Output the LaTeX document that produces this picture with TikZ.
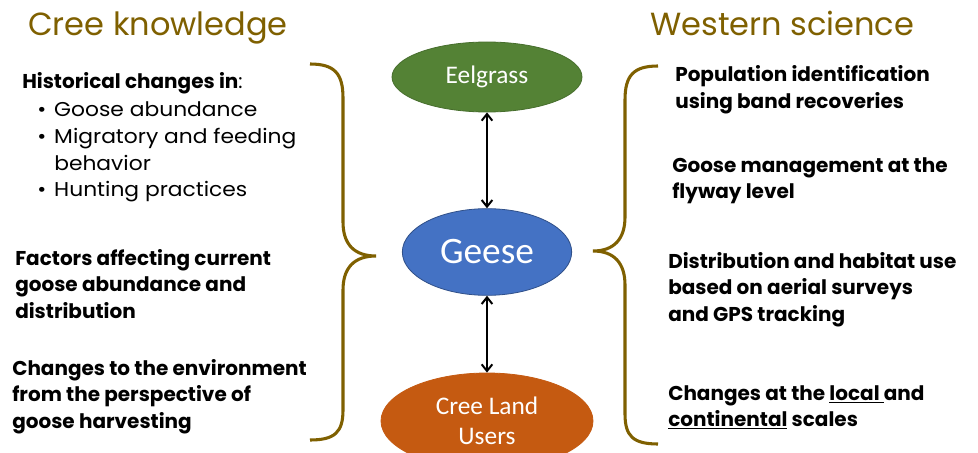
\documentclass[tikz,border=0pt]{standalone}
\usepackage{fontspec}
\setmainfont{Poppins}
\newfontfamily\widefont[FakeStretch=1.09]{Poppins}
\newfontfamily\calib{Carlito}
\usetikzlibrary{arrows.meta,shapes.geometric}
\definecolor{brownc}{HTML}{7F6000}
\definecolor{eelg}{HTML}{548235}
\definecolor{geeseb}{HTML}{4472C4}
\definecolor{creeo}{HTML}{C55A11}
\tikzset{
  title/.style={anchor=base west,inner sep=0pt,text=brownc,font=\fontsize{24}{28}\selectfont},
  block/.style={anchor=base west,inner sep=0pt,font=\fontsize{15}{19.9}\selectfont\bfseries},
  plain/.style={anchor=base west,inner sep=0pt,font=\fontsize{15}{19.9}\selectfont},
  oval/.style={ellipse,inner sep=0pt,text=white,line width=0.6pt},
  brace/.style={draw=brownc,line width=2.3pt},
  link/.style={line width=1.5pt,{Straight Barb[length=5pt,width=8pt]}-{Straight Barb[length=5pt,width=8pt]}}
}
\newcommand{\blk}[1]{\begin{tabular}[t]{@{}l@{}}#1\end{tabular}}
\begin{document}
\begin{tikzpicture}[x=0.75pt,y=-0.75pt]
\useasboundingbox (0,0) rectangle (978,453);
\clip (0,0) rectangle (978,453);
\fill[white] (0,0) rectangle (978,453);

% titles
\node[title] (tl) at (28,36) {Cree knowledge};
\node[title] (tr) at (650,36) {Western science};

% ellipses
\node[oval,fill=eelg,draw=eelg!85!black,minimum width=142.5pt,minimum height=52.5pt,font=\calib\fontsize{19}{22}\selectfont] (eel) at (487,77) {Eelgrass};
\node[oval,fill=geeseb,draw=geeseb!70!black,minimum width=127pt,minimum height=65pt,font=\calib\fontsize{28}{32}\selectfont] (geese) at (487,252) {Geese};
\node[oval,fill=creeo,draw=creeo,minimum width=159pt,minimum height=72pt,align=center,font=\calib\fontsize{19}{22.5}\selectfont] (cree) at (487,421) {Cree Land\\Users};

% connectors
\draw[link] (eel) -- (geese);
\draw[link] (geese) -- (cree);

% left brace
\coordinate (lt) at (310,64);
\coordinate (ltip) at (376,256);
\coordinate (lb) at (310,440);
\draw[brace] (lt) .. controls (335,64) and (343,74) .. (343,98) -- (343,222)
  .. controls (343,244) and (354,256) .. (ltip)
  .. controls (354,256) and (343,268) .. (343,290) -- (343,410)
  .. controls (343,432) and (335,440) .. (lb);

% right brace
\coordinate (rt) at (658,66);
\coordinate (rtip) at (593,251);
\coordinate (rb) at (658,444);
\draw[brace] (rt) .. controls (633,66) and (625,76) .. (625,100) -- (625,217)
  .. controls (625,239) and (614,251) .. (rtip)
  .. controls (614,251) and (625,263) .. (625,285) -- (625,414)
  .. controls (625,436) and (633,444) .. (rb);

% left texts
\node[plain] (l1) at (22,89) {\textbf{Historical changes in}:};
\node[plain] (l1b) at (37,117) {\widefont\begin{tabular}[t]{@{}p{12.75pt}@{}l@{}}
\textbullet & Goose abundance\\
\textbullet & Migratory and feeding\\
 & behavior\\
\textbullet & Hunting practices
\end{tabular}};
\node[block] (l2) at (15,265) {\blk{Factors affecting current\\goose abundance and\\distribution}};
\node[block] (l3) at (12,375) {\blk{Changes to the environment\\from the perspective of\\goose harvesting}};

% right texts
\node[block] (r1) at (675,82) {\blk{Population identification\\using band recoveries}};
\node[block] (r2) at (672,172) {\blk{Goose management at the\\flyway level}};
\node[block] (r3) at (668,268) {\blk{Distribution and habitat use\\based on aerial surveys\\and GPS tracking}};
\node[block] (r4) at (668,400) {\blk{Changes at the \underline{local }and\\\underline{continental} scales}};
\end{tikzpicture}
\end{document}
